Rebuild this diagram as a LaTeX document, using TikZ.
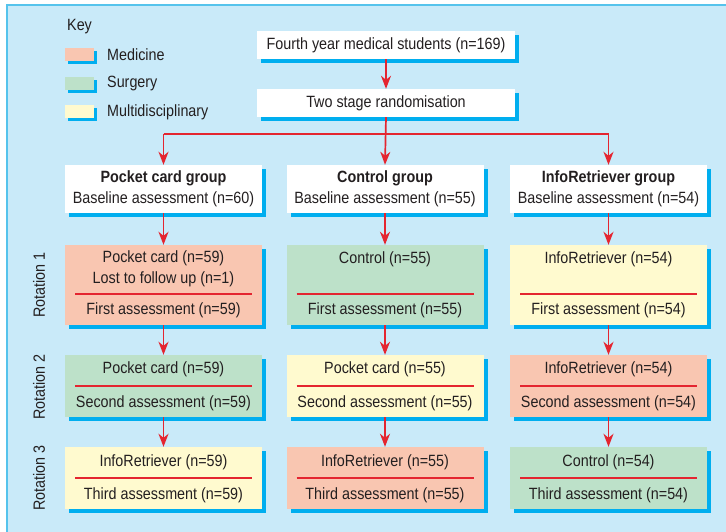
\documentclass[tikz,border=0pt]{standalone}
\usepackage{fontspec}
\setmainfont{Liberation Sans}[FakeStretch=0.88]
\usetikzlibrary{shadows,arrows.meta}
\definecolor{bgc}{HTML}{C9EAF9}
\definecolor{framec}{HTML}{55C3EC}
\definecolor{shadowc}{HTML}{00AEEF}
\definecolor{redc}{HTML}{E42530}
\definecolor{medc}{HTML}{F9C6B1}
\definecolor{surgc}{HTML}{BDE1C9}
\definecolor{multc}{HTML}{FFFACF}
\definecolor{txtc}{HTML}{231F20}
\begin{document}
\begin{tikzpicture}[x=1pt,y=-1pt,
  box/.style={draw=none, inner sep=0pt, minimum width=197pt,
    drop shadow={shadow xshift=4pt, shadow yshift=-4pt, fill=shadowc, opacity=1}},
  swatch/.style={draw=none, inner sep=0pt, minimum width=29pt, minimum height=13pt,
    drop shadow={shadow xshift=3pt, shadow yshift=-3pt, fill=shadowc, opacity=1}},
  txt/.style={inner sep=0pt, text=txtc, font=\fontsize{16.3}{21}\selectfont, align=center},
  arr/.style={draw=redc, line width=1.7pt, -{Stealth[length=13pt,width=10pt,inset=4pt]}},
  redline/.style={draw=redc, line width=1.7pt},
  divider/.style={draw=redc, line width=1.6pt}]
\useasboundingbox (0,0) rectangle (726,532);
\begin{scope}
  \clip (0,0) rectangle (726,532);
  \fill[bgc] (7,5) rectangle (760,560);
  \draw[framec, line width=1.6pt] (7,560) -- (7,5) -- (760,5);
\end{scope}

% Key
\node[txt, anchor=west] (key) at (67,27) {Key};
\node[swatch, fill=medc] (kmed) at (79.5,55) {};
\node[swatch, fill=surgc] (ksurg) at (79.5,83.5) {};
\node[swatch, fill=multc] (kmult) at (79.5,112) {};
\node[txt, anchor=west] (lmed) at (107,55) {Medicine};
\node[txt, anchor=west] (lsurg) at (107,83.5) {Surgery};
\node[txt, anchor=west] (lmult) at (107,112) {Multidisciplinary};

% Top
\node[box, fill=white, minimum width=258pt, minimum height=28pt, txt] (top) at (386,45) {Fourth year medical students (n=169)};
\node[box, fill=white, minimum width=258pt, minimum height=28pt, txt] (rand) at (386,103) {Two stage randomisation};

% Groups
\node[box, fill=white, minimum height=48pt, txt] (gp) at (163.5,189) {\textbf{Pocket card group}\\Baseline assessment (n=60)};
\node[box, fill=white, minimum height=48pt, txt] (gc) at (385,189) {\textbf{Control group}\\Baseline assessment (n=55)};
\node[box, fill=white, minimum height=48pt, txt] (gi) at (608.5,189) {\textbf{InfoRetriever group}\\Baseline assessment (n=54)};

% Rotation 1
\node[box, fill=medc, minimum height=80pt] (r1p) at (163.5,285) {};
\node[box, fill=surgc, minimum height=80pt] (r1c) at (385,285) {};
\node[box, fill=multc, minimum height=80pt] (r1i) at (608.5,285) {};
\node[txt] (r1pa) at (163.5,269) {Pocket card (n=59)\\Lost to follow up (n=1)};
\node[txt] (r1pb) at (163.5,310) {First assessment (n=59)};
\node[txt] (r1ca) at (385,259) {Control (n=55)};
\node[txt] (r1cb) at (385,310) {First assessment (n=55)};
\node[txt] (r1ia) at (608.5,259) {InfoRetriever (n=54)};
\node[txt] (r1ib) at (608.5,310) {First assessment (n=54)};
\draw[divider] (75,294) -- (252,294);
\draw[divider] (296.5,294) -- (473.5,294);
\draw[divider] (520,294) -- (697,294);

% Rotation 2
\node[box, fill=surgc, minimum height=62pt] (r2p) at (163.5,386) {};
\node[box, fill=multc, minimum height=62pt] (r2c) at (385,386) {};
\node[box, fill=medc, minimum height=62pt] (r2i) at (608.5,386) {};
\node[txt] (r2pa) at (163.5,369) {Pocket card (n=59)};
\node[txt] (r2pb) at (163.5,403) {Second assessment (n=59)};
\node[txt] (r2ca) at (385,369) {Pocket card (n=55)};
\node[txt] (r2cb) at (385,403) {Second assessment (n=55)};
\node[txt] (r2ia) at (608.5,369) {InfoRetriever (n=54)};
\node[txt] (r2ib) at (608.5,403) {Second assessment (n=54)};
\draw[divider] (75,386) -- (252,386);
\draw[divider] (296.5,386) -- (473.5,386);
\draw[divider] (520,386) -- (697,386);

% Rotation 3
\node[box, fill=multc, minimum height=62pt] (r3p) at (163.5,478) {};
\node[box, fill=medc, minimum height=62pt] (r3c) at (385,478) {};
\node[box, fill=surgc, minimum height=62pt] (r3i) at (608.5,478) {};
\node[txt] (r3pa) at (163.5,462) {InfoRetriever (n=59)};
\node[txt] (r3pb) at (163.5,495) {Third assessment (n=59)};
\node[txt] (r3ca) at (385,462) {InfoRetriever (n=55)};
\node[txt] (r3cb) at (385,495) {Third assessment (n=55)};
\node[txt] (r3ia) at (608.5,462) {Control (n=54)};
\node[txt] (r3ib) at (608.5,495) {Third assessment (n=54)};
\draw[divider] (75,478) -- (252,478);
\draw[divider] (296.5,478) -- (473.5,478);
\draw[divider] (520,478) -- (697,478);

% Rotation labels
\node[txt, rotate=90] (rot1) at (39,285) {Rotation 1};
\node[txt, rotate=90] (rot2) at (39,387) {Rotation 2};
\node[txt, rotate=90] (rot3) at (39,478) {Rotation 3};

% Connectors
\coordinate (jl) at (163.5,134);
\coordinate (jr) at (608.5,134);
\draw[arr] (top.south) -- (rand.north);
\draw[redline] (jl) -- (jr);
\draw[arr] (rand.south) -- (gc.north);
\draw[arr] (jl) -- (gp.north);
\draw[arr] (jr) -- (gi.north);
\foreach \c in {p,c,i} {
  \draw[arr] (g\c.south) -- (r1\c.north);
  \draw[arr] (r1\c.south) -- (r2\c.north);
  \draw[arr] (r2\c.south) -- (r3\c.north);
}
\end{tikzpicture}
\end{document}
